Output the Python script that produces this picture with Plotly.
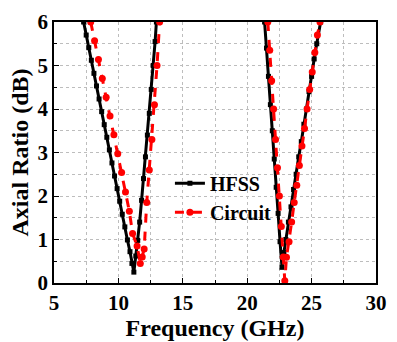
import plotly.graph_objects as go

# HFSS (black, squares)
hfss_f1 = [7.3, 7.5, 7.7, 7.9, 8.1, 8.3, 8.5, 8.7, 8.9, 9.1, 9.3, 9.5, 9.7, 9.9, 10.1, 10.3, 10.5, 10.7, 10.9, 11.05, 11.2, 11.35, 11.5, 11.65, 11.8, 11.95, 12.1, 12.25, 12.4, 12.55, 12.7, 12.85, 12.95]
hfss_a1 = [6.0, 5.7, 5.41, 5.12, 4.82, 4.53, 4.23, 3.94, 3.64, 3.35, 3.06, 2.76, 2.46, 2.17, 1.88, 1.58, 1.29, 0.99, 0.72, 0.45, 0.25, 0.62, 0.98, 1.4, 1.9, 2.4, 2.9, 3.4, 3.9, 4.45, 5.0, 5.55, 6.0]
hfss_f2 = [21.35, 21.5, 21.65, 21.8, 21.95, 22.1, 22.25, 22.4, 22.55, 22.7, 22.85, 23.0, 23.2, 23.4, 23.6, 23.8, 24.0, 24.2, 24.4, 24.6, 24.8, 25.0, 25.2, 25.4, 25.7]
hfss_a2 = [6.0, 5.4, 4.75, 4.1, 3.5, 2.85, 2.2, 1.6, 0.95, 0.36, 0.7, 1.0, 1.4, 1.75, 2.15, 2.5, 2.9, 3.25, 3.65, 4.0, 4.4, 4.75, 5.15, 5.5, 6.0]

# Circuit (red, dashed, circles)
circ_f1 = [7.85, 8.15, 8.45, 8.75, 9.05, 9.35, 9.65, 9.95, 10.25, 10.55, 10.85, 11.1, 11.45, 11.7, 11.85, 12.0, 12.2, 12.4, 12.6, 12.8, 13.0, 13.2]
circ_a1 = [6.0, 5.57, 5.14, 4.7, 4.27, 3.84, 3.41, 2.97, 2.54, 2.09, 1.65, 1.14, 0.85, 0.45, 0.6, 0.78, 1.85, 2.6, 3.3, 4.1, 5.0, 6.0]
circ_f2 = [21.6, 21.75, 21.9, 22.05, 22.2, 22.35, 22.5, 22.65, 22.8, 22.92, 23.05, 23.25, 23.45, 23.65, 23.85, 24.05, 24.25, 24.45, 24.65, 24.85, 25.05, 25.25, 25.45, 25.65]
circ_a2 = [6.0, 5.35, 4.65, 4.0, 3.3, 2.65, 2.0, 1.3, 0.6, 0.05, 0.59, 0.95, 1.4, 1.85, 2.25, 2.7, 3.15, 3.55, 4.0, 4.45, 4.85, 5.3, 5.7, 6.0]

x_ticks = [5, 10, 15, 20, 25, 30]
y_ticks = [0, 1, 2, 3, 4, 5, 6]

font_family = "Liberation Serif, Times New Roman, serif"
fig = go.Figure()

fig.add_trace(go.Scatter(x=hfss_f1, y=hfss_a1, mode="lines+markers", name="<b>HFSS</b>",
                         line=dict(color="black", width=3),
                         marker=dict(symbol="square", size=5, color="black"),
                         legendgroup="h"))
fig.add_trace(go.Scatter(x=hfss_f2, y=hfss_a2, mode="lines+markers", name="<b>HFSS</b>",
                         line=dict(color="black", width=3),
                         marker=dict(symbol="square", size=5, color="black"),
                         legendgroup="h", showlegend=False))
fig.add_trace(go.Scatter(x=circ_f1, y=circ_a1, mode="lines+markers", name="<b>Circuit</b>",
                         line=dict(color="red", width=3, dash="dash"),
                         marker=dict(symbol="circle", size=7, color="red"),
                         legendgroup="c"))
fig.add_trace(go.Scatter(x=circ_f2, y=circ_a2, mode="lines+markers", name="<b>Circuit</b>",
                         line=dict(color="red", width=3, dash="dash"),
                         marker=dict(symbol="circle", size=7, color="red"),
                         legendgroup="c", showlegend=False))

grid_col = "#bdbdbd"
axis_common = dict(showline=True, linecolor="black", linewidth=1.5, mirror=True,
                   ticks="inside", ticklen=5, tickcolor="black",
                   showgrid=True, gridcolor=grid_col, griddash="dot", gridwidth=1,
                   zeroline=False,
                   tickfont=dict(family=font_family, size=21, color="black"))

fig.update_xaxes(range=[5, 30], tickvals=x_ticks, ticktext=[f"<b>{v}</b>" for v in x_ticks],
                 minor=dict(dtick=2.5, showgrid=True, gridcolor=grid_col, griddash="dot",
                            ticks="inside", ticklen=3, tickcolor="black"),
                 title=dict(text="<b>Frequency (GHz)</b>", font=dict(family=font_family, size=24, color="black"), standoff=0),
                 **axis_common)
fig.update_yaxes(range=[0, 6], tickvals=y_ticks, ticktext=[f"<b>{v}</b>" for v in y_ticks],
                 minor=dict(dtick=0.5, showgrid=True, gridcolor=grid_col, griddash="dot",
                            ticks="inside", ticklen=3, tickcolor="black"),
                 title=dict(text="<b>Axial Ratio (dB)</b>", font=dict(family=font_family, size=24, color="black"), standoff=2),
                 **axis_common)

fig.update_layout(
    width=397, height=342,
    margin=dict(l=54, r=10, t=14, b=59),
    plot_bgcolor="white", paper_bgcolor="white",
    legend=dict(x=0.36, y=0.457, xanchor="left", yanchor="top",
                bgcolor="rgba(0,0,0,0)", font=dict(family=font_family, size=20, color="black"),
                tracegroupgap=0),
)

fig.write_html("out.html")
